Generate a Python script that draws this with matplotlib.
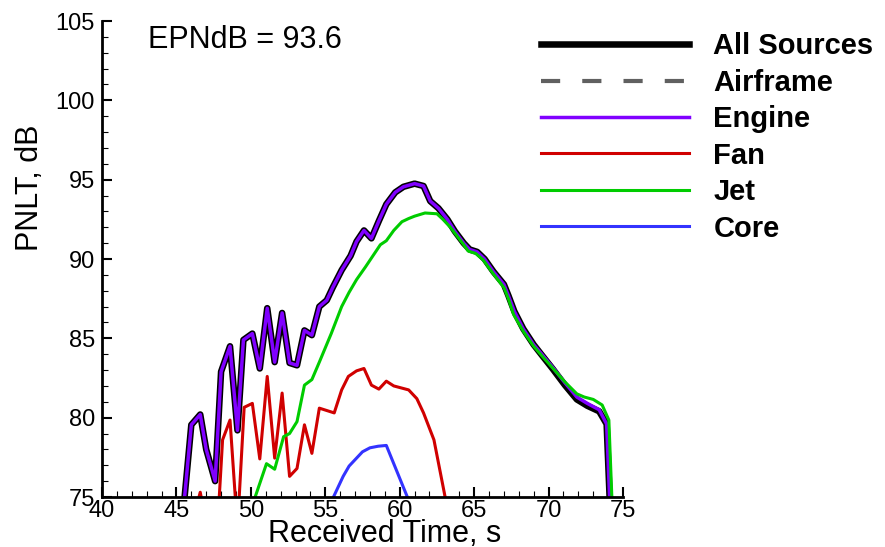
import matplotlib
matplotlib.use('Agg')
import matplotlib.pyplot as plt
from matplotlib.ticker import MultipleLocator

plt.rcParams['font.family'] = ['Liberation Sans', 'DejaVu Sans']

# PNLT time histories, received time (s) vs dB
all_t = [45.0, 45.5, 46.0, 46.6, 47.0, 47.6, 48.0, 48.6, 49.1, 49.5, 50.1, 50.6, 51.1, 51.6,
         52.1, 52.6, 53.1, 53.6, 54.1, 54.6, 55.1, 55.5, 56.1, 56.7, 57.1, 57.6, 58.1, 58.6,
         59.1, 59.7, 60.25, 61.0, 61.6, 62.05, 62.6, 63.2, 63.7, 64.3, 64.7, 65.2, 65.7,
         66.3, 67.0, 67.3, 67.7, 68.3, 69.0, 69.5, 70.3, 71.1, 71.9, 72.6, 73.4, 73.9, 74.4]
all_v = [70.0, 74.5, 79.55, 80.2, 78.0, 76.0, 82.9, 84.5, 79.2, 84.9, 85.3, 83.1, 86.9, 83.5,
         86.6, 83.45, 83.3, 85.5, 85.2, 87.0, 87.4, 88.2, 89.3, 90.2, 91.1, 91.8, 91.3, 92.4,
         93.45, 94.2, 94.55, 94.75, 94.6, 93.65, 93.2, 92.5, 91.75, 91.0, 90.6, 90.45, 90.0,
         89.2, 88.4, 87.7, 86.7, 85.6, 84.6, 84.0, 83.05, 82.05, 81.15, 80.75, 80.4, 79.6, 68.0]

engine_t = all_t
engine_v = [70.0, 74.5, 79.55, 80.2, 78.0, 76.0, 82.9, 84.5, 79.2, 84.9, 85.3, 83.1, 86.9, 83.5,
            86.6, 83.45, 83.3, 85.5, 85.2, 87.0, 87.4, 88.2, 89.3, 90.2, 91.1, 91.8, 91.3, 92.4,
            93.45, 94.2, 94.55, 94.75, 94.6, 93.65, 93.2, 92.5, 91.75, 91.0, 90.6, 90.45, 90.0,
            89.2, 88.4, 87.7, 86.7, 85.6, 84.6, 84.05, 83.15, 82.2, 81.3, 80.9, 80.5, 79.6, 68.0]

airframe_t = [45.0, 50.0, 55.0, 60.0, 65.0, 70.0, 74.5]
airframe_v = [65.0, 68.0, 70.5, 72.0, 70.5, 67.0, 60.0]

fan_t = [46.1, 46.6, 47.1, 47.6, 48.1, 48.6, 49.1, 49.55, 50.1, 50.6, 51.1, 51.6, 52.1, 52.6,
         53.1, 53.6, 54.1, 54.6, 55.1, 55.6, 56.1, 56.55, 57.1, 57.6, 58.1, 58.6, 59.1, 59.6,
         60.6, 61.15, 61.6, 62.3, 63.05, 63.6]
fan_v = [73.5, 75.3, 72.8, 70.5, 78.6, 79.85, 73.0, 80.65, 80.9, 77.4, 82.6, 77.45, 81.55, 76.3,
         76.8, 79.55, 77.75, 80.6, 80.45, 80.3, 81.75, 82.6, 82.95, 83.1, 82.05, 81.8, 82.3, 82.0,
         81.75, 81.2, 80.3, 78.6, 75.0, 72.5]

jet_t = [50.0, 51.05, 51.6, 52.2, 52.6, 53.1, 53.6, 54.1, 54.6, 55.0, 55.4, 56.1, 56.6, 57.1,
         57.7, 58.2, 58.7, 59.1, 59.6, 60.15, 60.6, 61.0, 61.7, 62.5, 62.9, 63.4, 63.85, 64.3,
         64.6, 65.1, 65.6, 66.3, 67.0, 67.3, 67.65, 68.3, 69.0, 69.55, 70.35, 71.1, 71.9, 72.4,
         73.0, 73.6, 74.05, 74.4]
jet_v = [74.2, 77.1, 76.75, 78.8, 79.0, 79.75, 82.05, 82.4, 83.5, 84.4, 85.3, 87.0, 87.9, 88.7,
         89.5, 90.2, 90.9, 91.15, 91.8, 92.35, 92.55, 92.7, 92.9, 92.85, 92.5, 92.0, 91.45, 90.9,
         90.5, 90.35, 89.95, 89.05, 88.2, 87.5, 86.5, 85.45, 84.5, 83.9, 83.05, 82.25, 81.5, 81.3,
         81.15, 80.8, 79.85, 71.4]

core_t = [55.5, 56.2, 56.6, 57.1, 57.5, 58.0, 58.55, 59.1, 60.6]
core_v = [74.9, 76.3, 76.95, 77.45, 77.85, 78.1, 78.2, 78.25, 74.8]

epndb = 93.6

fig = plt.figure(figsize=(8.85, 5.47), dpi=100)
ax = fig.add_axes([102 / 885, 50 / 547, 521 / 885, 476 / 547])

h_all, = ax.plot(all_t, all_v, color='black', lw=4.7, label='All Sources')
h_air, = ax.plot(airframe_t, airframe_v, color='#606060', lw=3, ls=(0, (4.6, 5.3)), label='Airframe')
h_eng, = ax.plot(engine_t, engine_v, color='#8000ff', lw=2.5, label='Engine')
h_fan, = ax.plot(fan_t, fan_v, color='#d00000', lw=2.2, label='Fan')
h_jet, = ax.plot(jet_t, jet_v, color='#00cc00', lw=2.2, label='Jet')
h_core, = ax.plot(core_t, core_v, color='#3333ff', lw=2.2, label='Core')

ax.set_xlim(40, 75)
ax.set_ylim(75, 105)
ax.xaxis.set_major_locator(MultipleLocator(5))
ax.xaxis.set_minor_locator(MultipleLocator(1))
ax.yaxis.set_major_locator(MultipleLocator(5))
ax.yaxis.set_minor_locator(MultipleLocator(1))
ax.tick_params(which='major', direction='in', length=7.2, width=1.5, labelsize=17, pad=2)
ax.tick_params(which='minor', direction='in', length=4.3, width=0.8)
ax.tick_params(axis='y', which='major', pad=5)
for s in ['top', 'right']:
    ax.spines[s].set_visible(False)
for s in ['left', 'bottom']:
    ax.spines[s].set_linewidth(2)

ax.set_xlabel('Received Time, s', fontsize=22)
ax.set_ylabel('PNLT, dB', fontsize=22)
ax.xaxis.set_label_coords(0.543, -0.077)
ax.yaxis.set_label_coords(-0.138, 0.649)
ax.xaxis.label.set_va('center')
ax.yaxis.label.set_va('center')

ax.text(0.088, 0.96, 'EPNdB = %.1f' % epndb, transform=ax.transAxes, fontsize=22,
        ha='left', va='center')

handles = [h_all, h_air, h_eng, h_fan, h_jet, h_core]
leg = fig.legend(handles=handles, loc='upper left', bbox_to_anchor=(0.611, 0.941),
                 frameon=False, handlelength=5.1, handletextpad=0.82,
                 labelspacing=0.29, borderpad=0, borderaxespad=0,
                 prop={'weight': 'bold', 'size': 21})

fig.savefig('out.png', dpi=100)
